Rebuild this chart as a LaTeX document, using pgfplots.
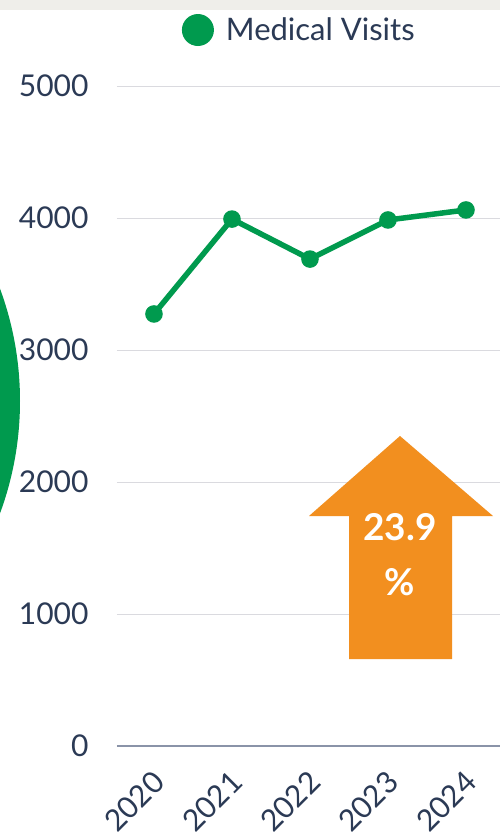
\documentclass[border=0pt]{standalone}
\usepackage{fontspec}
\setmainfont{Lato}
\usepackage{pgfplots}
\pgfplotsset{compat=1.18}
\definecolor{mgreen}{HTML}{009A4E}
\definecolor{navy}{HTML}{2B3A55}
\definecolor{orng}{HTML}{F28F1F}
\definecolor{band}{HTML}{EFEEEA}
\definecolor{gridc}{HTML}{DADADF}
\definecolor{axc}{HTML}{8A93A8}
\begin{document}
\begin{tikzpicture}[x=1pt,y=1pt]
\useasboundingbox (0,0) rectangle (500,-836);
\clip (0,0) rectangle (500,-836);
\fill[white] (0,0) rectangle (500,-836);
\fill[band] (0,0) rectangle (500,-10);
\fill[mgreen] (-304,-401) circle (324);
\begin{axis}[
  at={(117pt,-746pt)}, anchor=south west,
  scale only axis, width=383pt, height=660pt,
  xmin=-0.474, xmax=4.436, ymin=0, ymax=5000,
  axis x line*=bottom, axis y line*=left,
  x axis line style={draw=axc, line width=1.2pt, -},
  y axis line style={draw=none},
  ymajorgrids, grid style={gridc, line width=1pt},
  ytick={0,1000,...,5000},
  xtick={0,1,2,3,4}, xticklabels={2020,2021,2022,2023,2024},
  major tick length=0pt,
  /pgf/number format/assume math mode=true,
  /pgf/number format/1000 sep={},
  ticklabel style={font=\fontsize{30}{34}\selectfont, text=navy},
  yticklabel style={anchor=east, xshift=-25pt},
  xticklabel style={xshift=-3pt, yshift=-20pt, rotate=45, anchor=north east, inner sep=2pt},
  legend style={at={(0.476,1)}, anchor=center, yshift=56pt, draw=none, fill=none,
    font=\fontsize{31}{36}\selectfont, text=navy},
  legend image code/.code={\fill[mgreen, draw=none] (0pt,0pt) circle (16pt); \path[draw=none, fill=none] (0pt,0pt) -- (26pt,0pt);},
  legend cell align=left,
  clip=false,
]
\addplot[mgreen, line width=5.5pt, mark=*, mark size=6pt, mark options={fill=mgreen, draw=mgreen}]
  coordinates {(0,3273) (1,3992) (2,3689) (3,3985) (4,4061)};
\addlegendentry{Medical Visits}
\end{axis}
\fill[orng] (400,-436) -- (493,-516) -- (452,-516) -- (452,-659) -- (349,-659) -- (349,-516) -- (309,-516) -- cycle;
\node[text=white, font=\fontsize{37}{40}\selectfont\bfseries] at (400,-527) {23.9};
\node[text=white, font=\fontsize{37}{40}\selectfont\bfseries] at (400,-582) {\%};
\end{tikzpicture}
\end{document}
